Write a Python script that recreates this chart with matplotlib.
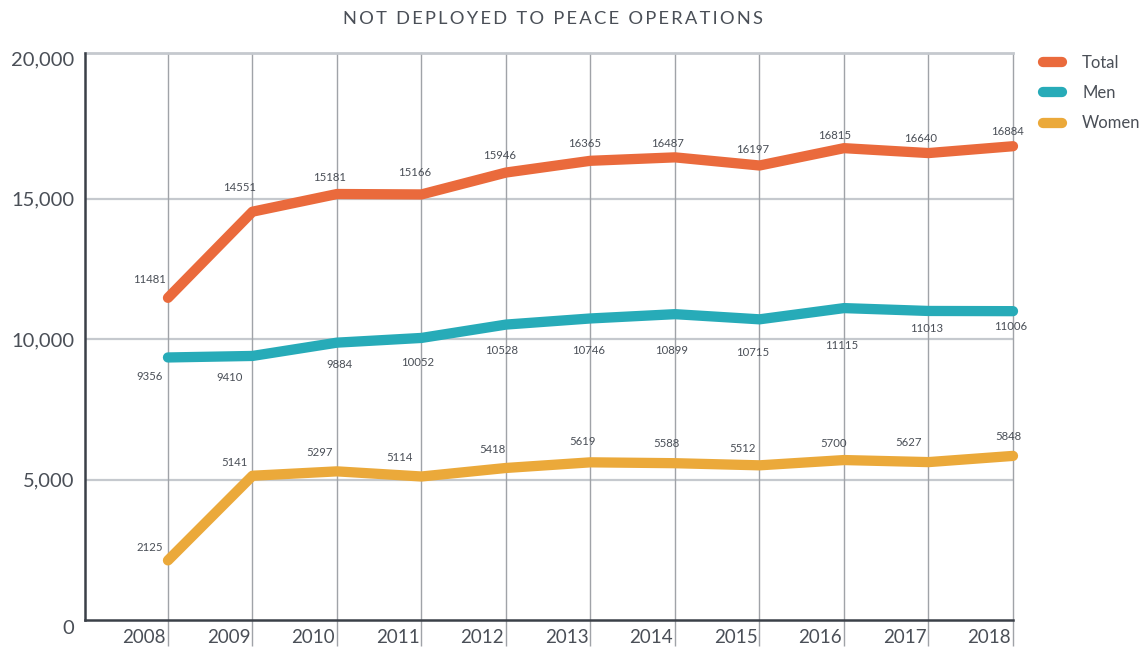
import matplotlib
matplotlib.use("Agg")
import matplotlib.pyplot as plt
from matplotlib.transforms import blended_transform_factory, ScaledTranslation

plt.rcParams['font.family'] = ['Lato', 'DejaVu Sans']

years = ["2008", "2009", "2010", "2011", "2012", "2013", "2014", "2015", "2016", "2017", "2018"]
total = [11481, 14551, 15181, 15166, 15946, 16365, 16487, 16197, 16815, 16640, 16884]
men = [9356, 9410, 9884, 10052, 10528, 10746, 10899, 10715, 11115, 11013, 11006]
women = [2125, 5141, 5297, 5114, 5418, 5619, 5588, 5512, 5700, 5627, 5848]
ytick_vals = [0, 5000, 10000, 15000, 20000]
ytick_labels = ["0", "5,000", "10,000", "15,000", "20,000"]
title = "NOT DEPLOYED TO PEACE OPERATIONS"

# label offsets in pixels (style)
off_total = [(-18, 18), (-13, 24), (-7, 17), (-7, 22), (-6, 17), (-6, 17), (-7, 14), (-7, 16), (-9, 13), (-8, 15), (-6, 15)]
off_men = [(-18, -19), (-23, -22), (2, -22), (-4, -25), (-4, -26), (-2, -32), (-3, -36), (-7, -33), (-2, -37), (-2, -18), (-2, -15)]
off_women = [(-18, 13), (-18, 13), (-17, 19), (-22, 19), (-14, 18), (-8, 21), (-9, 20), (-17, 17), (-10, 17), (-20, 20), (-5, 19)]

C_TOTAL = "#EA6A3C"
C_MEN = "#27ABB8"
C_WOMEN = "#EBA93A"
TXT = "#4a4f57"
SPINE = "#3b4048"
HGRID = "#c5c9ce"
VGRID = "#a0a3a8"

W, H = 1147, 647
fig = plt.figure(figsize=(W / 100, H / 100), dpi=100)
ax = fig.add_axes([85 / W, (H - 620) / H, (1013 - 85) / W, (620 - 52.5) / H])

x = list(range(len(years)))
ax.set_xlim(-0.982, len(years) - 1)
ax.set_ylim(0, 20224)

# grid
for v in ytick_vals[1:-1]:
    ax.axhline(v, color=HGRID, lw=1.6, zorder=1)
for xi in x:
    ax.axvline(xi, color=VGRID, lw=1.0, zorder=1, clip_on=False)

lines = []
for vals, col, lab, offs in [(total, C_TOTAL, "Total", off_total),
                             (men, C_MEN, "Men", off_men),
                             (women, C_WOMEN, "Women", off_women)]:
    ln, = ax.plot(x, vals, color=col, lw=7.4, solid_capstyle="round",
                  solid_joinstyle="round", label=lab, zorder=3, clip_on=False)
    lines.append(ln)
    for xi, v, (dx, dy) in zip(x, vals, offs):
        ax.annotate(str(v), (xi, v), xytext=(dx, dy), textcoords="offset pixels",
                    ha="center", va="center", fontsize=8.2, color=TXT, zorder=4)

# spines
for s in ["top", "right"]:
    ax.spines[s].set_visible(False)
ax.spines["left"].set_color(SPINE)
ax.spines["left"].set_linewidth(1.8)
ax.spines["bottom"].set_color(SPINE)
ax.spines["bottom"].set_linewidth(1.8)
ax.spines["bottom"].set_zorder(5)
ax.axhline(20224, color=HGRID, lw=2, zorder=1, clip_on=False)

# x ticks: long gray ticks below axis, labels left of ticks
ax.set_xticks(x)
ax.set_xticklabels([])
ax.tick_params(axis="x", length=18.5, width=1.0, color=VGRID, direction="out")
xtrans = blended_transform_factory(ax.transData, ax.transAxes)
for xi, lab in zip(x, years):
    ax.text(xi, 0, lab, transform=xtrans + ScaledTranslation(-2 / 100, -17.5 / 100, fig.dpi_scale_trans),
            ha="right", va="center", fontsize=13.5, color=TXT)

# y ticks
ax.set_yticks([])
ytrans = blended_transform_factory(ax.transAxes, ax.transData)
for v, lab in zip(ytick_vals, ytick_labels):
    dy = -9 if v == 0 else -1
    ax.text(0, v, lab, transform=ytrans + ScaledTranslation(-11 / 100, dy / 100, fig.dpi_scale_trans),
            ha="right", va="center", fontsize=14.5, color=TXT)

# title with letter spacing
spaced = "\u2009".join(list(title))
fig.text(553 / W, 1 - 19 / H, spaced, ha="center", va="center", fontsize=13.2, color=TXT)

leg = ax.legend(handles=lines, loc="upper left", bbox_to_anchor=(1043 / W, 1 - 55 / H),
                bbox_transform=fig.transFigure, frameon=False, fontsize=12,
                handlelength=1.15, handletextpad=1.2, labelspacing=0.85,
                borderpad=0, borderaxespad=0)
for t in leg.get_texts():
    t.set_color(TXT)

fig.savefig("out.png", dpi=100)
